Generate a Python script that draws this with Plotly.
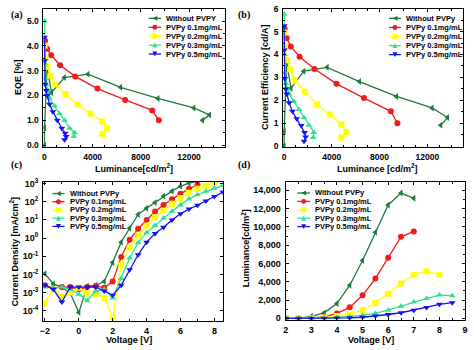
import plotly.graph_objects as go

W, H = 474, 350
FONT = "Liberation Sans, Arial, sans-serif"
SERIF = "Liberation Serif, Times New Roman, serif"

# ---------------- series styling / names ----------------
names_a = ["Without PVPY", "PVPy 0.1mg/mL", "PVPy 0.2mg/mL", "PVPy 0.3mg/mL", "PVPy 0.5mg/mL"]
names = ["Without PVPy", "PVPy 0.1mg/mL", "PVPy 0.2mg/mL", "PVPy 0.3mg/mL", "PVPy 0.5mg/mL"]
colors = ["#1e7b3c", "#f21a1a", "#ffff00", "#2fe38a", "#1414f0"]
symbols = ["triangle-left", "circle", "square", "triangle-up", "triangle-down"]

# ---------------- panel (d): luminance vs voltage ----------------
v_0 = [2, 2.5, 3, 3.5, 4, 4.5, 5, 5.5, 6, 6.5, 7]
v_01 = [2, 2.5, 3, 3.5, 4, 4.5, 5, 5.5, 6, 6.5, 7]
v_02 = [2, 2.5, 3, 3.5, 4, 4.5, 5, 5.5, 6, 6.5, 7, 7.5, 8]
v_03 = [2, 2.5, 3, 3.5, 4, 4.5, 5, 5.5, 6, 6.5, 7, 7.5, 8, 8.5]
v_05 = [2, 2.5, 3, 3.5, 4, 4.5, 5, 5.5, 6, 6.5, 7, 7.5, 8, 8.5]

lum_v_0 = [0, 0, 220, 600, 1620, 3620, 6320, 9420, 12400, 13700, 13130]
lum_v_01 = [0, 0, 50, 170, 540, 1200, 2520, 4350, 6640, 8920, 9500]
lum_v_02 = [0, 0, 20, 80, 250, 450, 890, 1710, 2680, 3810, 4760, 5160, 4760]
lum_v_03 = [0, 0, 10, 30, 100, 180, 330, 540, 890, 1320, 1780, 2200, 2540, 2480]
lum_v_05 = [0, 0, 5, 10, 30, 60, 120, 250, 420, 610, 890, 1180, 1530, 1710]

# ---------------- panels (a),(b): efficiency vs luminance ----------------
lum_e_0 = [0, 5, 220, 580, 1650, 3610, 6320, 9420, 12400, 13700, 13130]
eqe_0 = [0.0, 0.7, 3.15, 2.12, 2.72, 2.86, 2.33, 1.88, 1.5, 1.22, 1.0]
ce_0 = [0.0, 0.65, 3.65, 2.52, 3.27, 3.44, 2.82, 2.17, 1.67, 1.25, 0.92]

lum_e_01 = [None, None, 50, 220, 560, 1300, 2550, 4400, 6700, 8950, 9500]
eqe_01 = [None, None, 4.2, 3.88, 3.62, 3.22, 2.77, 2.28, 1.82, 1.4, 1.0]
ce_01 = [None, None, 5.12, 4.72, 4.35, 3.9, 3.37, 2.72, 2.1, 1.52, 1.0]

lum_e_02 = [None, None, 20, 80, 250, 500, 900, 1750, 2750, 3830, 4800, 5200, 4800]
eqe_02 = [None, None, 4.0, 3.5, 3.15, 2.8, 2.45, 2.05, 1.64, 1.26, 0.95, 0.66, 0.45]
ce_02 = [None, None, 4.95, 4.3, 3.75, 3.35, 2.85, 2.37, 1.83, 1.38, 0.95, 0.62, 0.38]

lum_e_03 = [None, None, 10, 30, 70, 140, 300, 420, 830, 1250, 1670, 2080, 2500, 2440]
eqe_03 = [None, None, 5.0, 3.3, 2.7, 2.43, 2.2, 1.9, 1.58, 1.26, 1.0, 0.68, 0.5, 0.35]
ce_03 = [None, None, 5.75, 4.0, 3.2, 2.73, 2.5, 2.28, 1.95, 1.6, 1.24, 0.91, 0.6, 0.38]

lum_e_05 = [None, None, 5, 20, 55, 140, 220, 420, 700, 1060, 1440, 1720, 1800, 1670]
eqe_05 = [None, None, 4.35, 3.4, 2.45, 2.2, 2.0, 1.65, 1.35, 1.0, 0.68, 0.48, 0.35, 0.22]
ce_05 = [None, None, 5.25, 4.2, 2.95, 2.5, 2.28, 1.9, 1.52, 1.2, 0.9, 0.6, 0.4, 0.22]

# ---------------- panel (c): current density vs voltage ----------------
vj_0 = [-2, -1.5, -1, -0.5, 0, 0.5, 1, 1.5, 2, 2.5, 3, 3.5, 4, 4.5, 5, 5.5, 6, 6.5, 7]
vj_01 = [-2, -1.5, -1, -0.5, 0, 0.5, 1, 1.5, 2, 2.5, 3, 3.5, 4, 4.5, 5, 5.5, 6, 6.5, 7]
vj_02 = [-2, -1.5, -1, -0.5, 0, 0.5, 1, 1.5, 2, 2.5, 3, 3.5, 4, 4.5, 5, 5.5, 6, 6.5, 7, 7.5, 8]
vj_03 = [-2, -1.5, -1, -0.5, 0, 0.5, 1, 1.5, 2, 2.5, 3, 3.5, 4, 4.5, 5, 5.5, 6, 6.5, 7, 7.5, 8, 8.5]
vj_05 = [-2, -1.5, -1, -0.5, 0, 0.5, 1, 1.5, 2, 2.5, 3, 3.5, 4, 4.5, 5, 5.5, 6, 6.5, 7, 7.5, 8, 8.5]

j_0 = [1.1e-2, 3e-3, 2e-3, 9e-4, 8e-5, 2.2e-3, 2.5e-3, 4e-3, 4.5e-2, 0.6, 3.5, 20, 44, 91, 207, 390, 720, 1080, 1340]
j_01 = [2.5e-3, 1.8e-3, 2e-3, 2e-3, 1.5e-3, 2e-3, 2.3e-3, 1.8e-3, 4e-3, 0.09, 0.8, 3.3, 10, 29, 68, 140, 280, 520, 880]
j_02 = [2.5e-4, 1.6e-3, 6e-4, 1e-3, 1.8e-3, 9e-4, 8e-4, 5e-4, 4e-5, 0.033, 0.3, 1.4, 5, 14, 32, 78, 165, 320, 520, 780, 1100]
j_03 = [2e-3, 1.8e-3, 2e-3, 1.5e-3, 8e-4, 3.5e-4, 1.2e-3, 1.5e-3, 5e-4, 6e-3, 0.08, 0.55, 2, 5, 13, 30, 68, 145, 250, 380, 560, 800]
j_05 = [2.5e-3, 1.5e-3, 3e-4, 2e-3, 2e-3, 2e-3, 2e-3, 1.2e-3, 7e-4, 2.5e-3, 0.018, 0.12, 0.6, 1.8, 4, 10, 22, 40, 65, 110, 200, 350]

j_tickvals = [1e-4, 1e-3, 1e-2, 1e-1, 1e0, 1e1, 1e2, 1e3]
j_ticktext = ["10<sup>-4</sup>", "10<sup>-3</sup>", "10<sup>-2</sup>", "10<sup>-1</sup>",
              "10<sup>0</sup>", "10<sup>1</sup>", "10<sup>2</sup>", "10<sup>3</sup>"]

# ---------------- build ----------------
def px2paper(x, y):
    return x / W, 1 - y / H

fig = go.Figure()

def add_series(xs, ys, xa, ya, i):
    fig.add_trace(go.Scatter(
        x=xs, y=ys, xaxis=xa, yaxis=ya, mode="lines+markers",
        line=dict(color=colors[i], width=1.3),
        marker=dict(symbol=symbols[i], size=6, color=colors[i], line=dict(width=0)),
        showlegend=False, cliponaxis=True))

eff_lum = [lum_e_0, lum_e_01, lum_e_02, lum_e_03, lum_e_05]
eqes = [eqe_0, eqe_01, eqe_02, eqe_03, eqe_05]
ces = [ce_0, ce_01, ce_02, ce_03, ce_05]
vjs = [vj_0, vj_01, vj_02, vj_03, vj_05]
js = [j_0, j_01, j_02, j_03, j_05]
vs = [v_0, v_01, v_02, v_03, v_05]
lums = [lum_v_0, lum_v_01, lum_v_02, lum_v_03, lum_v_05]

for i in range(5):
    add_series(eff_lum[i], eqes[i], "x", "y", i)
    add_series(eff_lum[i], ces[i], "x2", "y2", i)
    add_series(vjs[i], js[i], "x3", "y3", i)
    add_series(vs[i], lums[i], "x4", "y4", i)

def tf(size):
    return dict(family=FONT, size=size, color="black", weight="bold")

def ax(domain, rng, anchor, fs=8.5, **kw):
    d = dict(domain=domain, range=rng, anchor=anchor, showline=True, linecolor="black",
             linewidth=1, mirror="ticks", ticks="inside", ticklen=3, tickwidth=1,
             tickcolor="black", showgrid=False, zeroline=False, tickfont=tf(fs),
             ticklabelstandoff=2)
    d.update(kw)
    return d

def dom_x(l, r):
    return [l / W, r / W]

def dom_y(t, b):
    return [1 - b / H, 1 - t / H]

def minor(dt):
    return dict(ticks="inside", ticklen=2, tickcolor="black", dtick=dt)

fig.update_layout(
    width=W, height=H, margin=dict(l=0, r=0, t=0, b=0),
    paper_bgcolor="white", plot_bgcolor="white", showlegend=False,
    xaxis=ax(dom_x(41, 225), [-80, 15000], "y", dtick=4000, tick0=0, tickformat="d", minor=minor(1000)),
    yaxis=ax(dom_y(4.7, 146.5), [-0.08, 5.5], "x", dtick=1, tick0=0, tickformat=".1f", minor=minor(0.5)),
    xaxis2=ax(dom_x(283.7, 466), [-80, 15000], "y2", dtick=4000, tick0=0, tickformat="d", minor=minor(1000)),
    yaxis2=ax(dom_y(4.7, 146.5), [-0.04, 6.0], "x2", dtick=1, tick0=0, minor=minor(0.5)),
    xaxis3=ax(dom_x(40.7, 222.7), [-2.1, 8.5], "y3", fs=9, dtick=2, tick0=0, minor=minor(1)),
    yaxis3=ax(dom_y(181.7, 324), [-4.55, 3.12], "x3", fs=9, type="log",
              tickvals=j_tickvals, ticktext=j_ticktext),
    xaxis4=ax(dom_x(286.3, 468), [2, 9], "y4", fs=9, dtick=1, tick0=0, minor=minor(0.5)),
    yaxis4=ax(dom_y(181.7, 323), [-140, 14960], "x4", fs=9, dtick=2000, tick0=0, tickformat=",d",
              minor=minor(1000)),
)

annotations = []
shapes = []

def text_at(x, y, txt, size=9, angle=0, family=FONT, xanchor="center", bold=True):
    px, py = px2paper(x, y)
    annotations.append(dict(x=px, y=py, xref="paper", yref="paper", text=txt, showarrow=False,
                            textangle=angle, xanchor=xanchor, yanchor="middle",
                            font=dict(family=family, size=size, color="black",
                                      weight="bold" if bold else "normal")))

# axis titles
text_at(133, 167.5, "Luminance[cd/m<sup>2</sup>]")
text_at(15, 75, "EQE [%]", angle=-90)
text_at(379, 167.5, "Luminance [cd/m<sup>2</sup>]")
text_at(266, 75, "Current Efficiency [cd/A]", angle=-90)
text_at(128, 343.5, "Voltage [V]")
text_at(11.5, 253, "Current Density [mA/cm<sup>2</sup>]", angle=-90)
text_at(373, 343.5, "Voltage [V]")
text_at(246, 250, "Luminance[cd/m<sup>2</sup>]", angle=-90)

# panel labels
for lab, x, y in [("(a)", 14, 11), ("(b)", 244, 11), ("(c)", 14, 165), ("(d)", 244, 165)]:
    text_at(x, y, lab, size=10, family=SERIF)

# legends (drawn manually to match the compact layout)
def marker_shape(i, cx, cy, s=5.0):
    x0, y0 = px2paper(cx - s / 2, cy + s / 2)
    x1, y1 = px2paper(cx + s / 2, cy - s / 2)
    base = dict(xref="paper", yref="paper", fillcolor=colors[i], line=dict(width=0))
    sym = symbols[i]
    if sym == "circle":
        shapes.append(dict(type="circle", x0=x0, y0=y0, x1=x1, y1=y1, **base))
    elif sym == "square":
        shapes.append(dict(type="rect", x0=x0, y0=y0, x1=x1, y1=y1, **base))
    else:
        h = s / 2
        if sym == "triangle-left":
            pts = [(cx - h, cy), (cx + h, cy - h), (cx + h, cy + h)]
        elif sym == "triangle-up":
            pts = [(cx, cy - h), (cx - h, cy + h), (cx + h, cy + h)]
        else:
            pts = [(cx, cy + h), (cx - h, cy - h), (cx + h, cy - h)]
        pp = [px2paper(a, b) for a, b in pts]
        path = "M {},{} L {},{} L {},{} Z".format(pp[0][0], pp[0][1], pp[1][0], pp[1][1], pp[2][0], pp[2][1])
        shapes.append(dict(type="path", path=path, **base))

def legend(labels, lx0, lx1, tx, rows):
    for i, (lab, ry) in enumerate(zip(labels, rows)):
        a0, b0 = px2paper(lx0, ry)
        a1, b1 = px2paper(lx1, ry)
        shapes.append(dict(type="line", xref="paper", yref="paper", x0=a0, y0=b0, x1=a1, y1=b1,
                           line=dict(color=colors[i], width=1.3)))
        marker_shape(i, (lx0 + lx1) / 2, ry)
        text_at(tx, ry, lab, size=7.5, xanchor="left")

legend(names_a, 147.5, 160, 163, [14.7, 23.8, 33.0, 42.1, 51.2])
legend(names, 391, 403, 406, [14.7, 24.0, 33.3, 42.6, 51.8])
legend(names, 50, 62.3, 65.7, [194, 202.4, 210.8, 219.2, 227.6])
legend(names, 298, 311, 313.5, [193.4, 202.0, 210.6, 219.2, 227.8])

fig.update_layout(annotations=annotations, shapes=shapes)
fig.write_html("out.html")
